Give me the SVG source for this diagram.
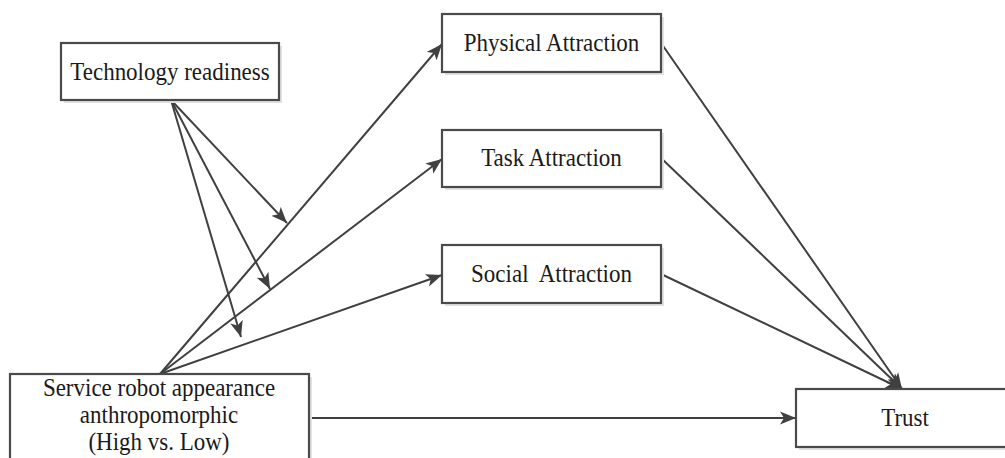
<svg xmlns="http://www.w3.org/2000/svg" width="1005" height="458" viewBox="0 0 1005 458">
  <defs>
    <marker id="arr" markerWidth="18" markerHeight="14" refX="16" refY="7" orient="auto" markerUnits="userSpaceOnUse">
      <path d="M0,0.5 L16,7 L0,13.5 L4,7 z" fill="#404040"/>
    </marker>
  </defs>
  <style>
    .box { fill: #ffffff; stroke: #4a4a4a; stroke-width: 2.2; }
    .shadow { fill: #e2e2e2; }
    .lbl { font-family: "Liberation Serif", "Times New Roman", serif; font-size: 23px; fill: #1a1a1a; text-anchor: middle; }
    .edge { stroke: #404040; stroke-width: 2; fill: none; marker-end: url(#arr); }
  </style>
  <rect width="1005" height="458" fill="#ffffff"/>

  <g id="connectors">
    <line class="edge" x1="171" y1="100" x2="287" y2="223"/>
    <line class="edge" x1="171" y1="100" x2="270" y2="289"/>
    <line class="edge" x1="171" y1="100" x2="241" y2="337"/>
    <line class="edge" x1="160" y1="374" x2="442" y2="44"/>
    <line class="edge" x1="160" y1="374" x2="442" y2="159"/>
    <line class="edge" x1="160" y1="374" x2="442" y2="275"/>
    <line class="edge" x1="661" y1="43" x2="902" y2="389"/>
    <line class="edge" x1="661" y1="158" x2="902" y2="389"/>
    <line class="edge" x1="661" y1="274" x2="902" y2="389"/>
    <line class="edge" x1="309" y1="418" x2="796" y2="418"/>
  </g>

  <g id="tech">
    <rect class="shadow" x="64" y="46" width="218" height="57"/>
    <rect class="box" x="61" y="43" width="218" height="57"/>
    <text class="lbl" transform="translate(170,80) scale(1,1.1)">Technology readiness</text>
  </g>

  <g id="physical">
    <rect class="shadow" x="445" y="17" width="219" height="58"/>
    <rect class="box" x="442" y="14" width="219" height="58"/>
    <text class="lbl" transform="translate(551.5,51) scale(1,1.1)">Physical Attraction</text>
  </g>

  <g id="task">
    <rect class="shadow" x="445" y="133" width="219" height="57"/>
    <rect class="box" x="442" y="130" width="219" height="57"/>
    <text class="lbl" transform="translate(551.5,166) scale(1,1.1)">Task Attraction</text>
  </g>

  <g id="social">
    <rect class="shadow" x="445" y="248" width="219" height="58"/>
    <rect class="box" x="442" y="245" width="219" height="58"/>
    <text class="lbl" transform="translate(551.5,282) scale(1,1.1)" xml:space="preserve">Social  Attraction</text>
  </g>

  <g id="service">
    <rect class="shadow" x="13" y="377" width="299" height="100"/>
    <rect class="box" x="10" y="374" width="299" height="100"/>
    <text class="lbl" transform="translate(159,396) scale(1,1.1)">Service robot appearance</text>
    <text class="lbl" transform="translate(159,423) scale(1,1.1)">anthropomorphic</text>
    <text class="lbl" transform="translate(159,450) scale(1,1.1)">(High vs. Low)</text>
  </g>

  <g id="trust">
    <rect class="shadow" x="799" y="392" width="220" height="58"/>
    <rect class="box" x="796" y="389" width="220" height="58"/>
    <text class="lbl" transform="translate(905,426) scale(1,1.1)">Trust</text>
  </g>
</svg>
